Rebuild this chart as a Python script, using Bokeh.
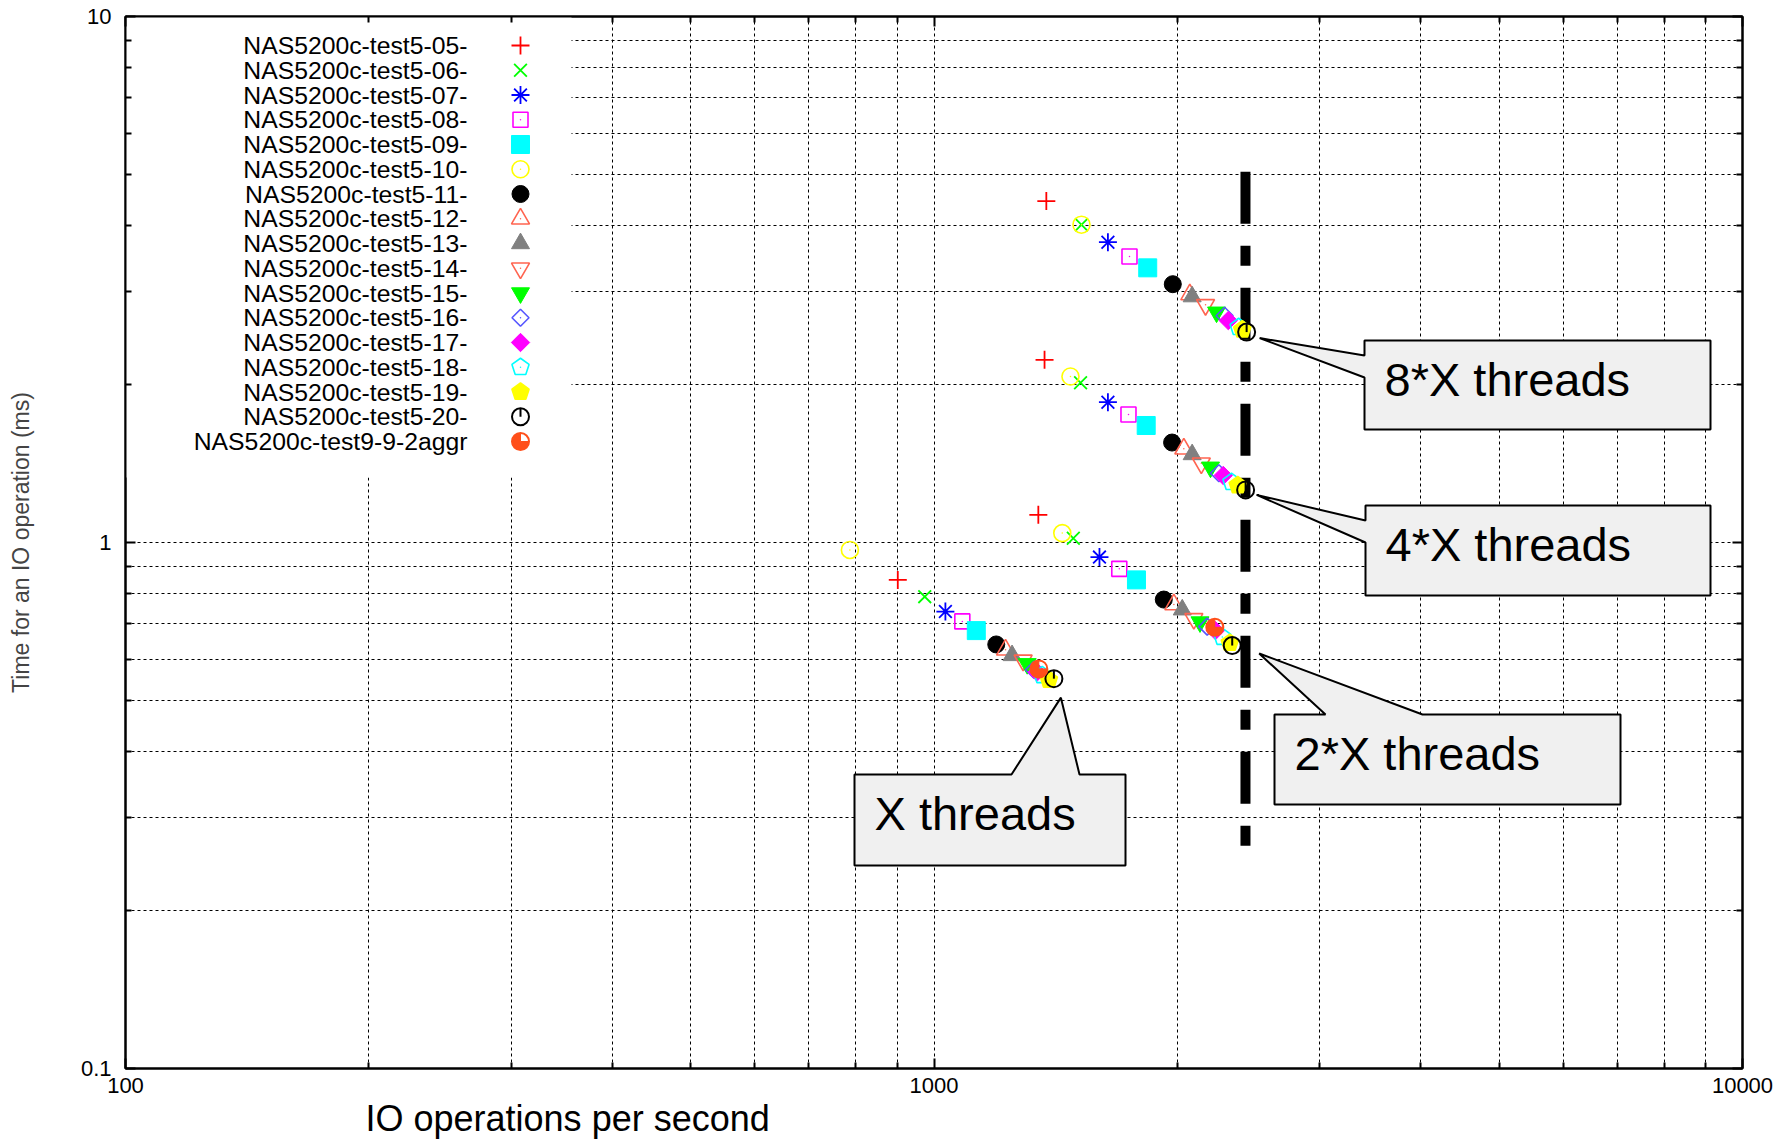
import numpy as np
from bokeh.plotting import figure
from bokeh.models import FixedTicker, LogAxis, Title
from bokeh.core.properties import value
from bokeh.embed import file_html
from bokeh.resources import INLINE

# ---------------- data (IOPS, latency ms) : groups X, 2*X, 4*X, 8*X threads ----------------
iops_05 = [902, 1346, 1370, 1377];  lat_05 = [0.849, 1.129, 2.225, 4.457]
iops_06 = [974, 1487, 1518, 1522];  lat_06 = [0.789, 1.019, 2.012, 4.018]
iops_07 = [1033, 1602, 1641, 1641]; lat_07 = [0.739, 0.938, 1.848, 3.724]
iops_08 = [1084, 1695, 1740, 1745]; lat_08 = [0.708, 0.891, 1.751, 3.498]
iops_09 = [1128, 1780, 1830, 1838]; lat_09 = [0.680, 0.849, 1.669, 3.328]
iops_10 = [787, 1441, 1475, 1522];  lat_10 = [0.968, 1.042, 2.068, 4.020]
iops_11 = [1194, 1924, 1970, 1974]; lat_11 = [0.640, 0.779, 1.549, 3.098]
iops_12 = [1226, 1980, 2037, 2072]; lat_12 = [0.625, 0.762, 1.507, 2.960]
iops_13 = [1249, 2028, 2086, 2086]; lat_13 = [0.610, 0.745, 1.470, 2.934]
iops_14 = [1289, 2096, 2141, 2167]; lat_14 = [0.597, 0.716, 1.415, 2.830]
iops_15 = [1304, 2133, 2198, 2236]; lat_15 = [0.588, 0.706, 1.390, 2.740]
iops_16 = [1329, 2177, 2251, 2288]; lat_16 = [0.573, 0.692, 1.354, 2.698]
iops_17 = [1341, 2229, 2279, 2312]; lat_17 = [0.567, 0.680, 1.341, 2.642]
iops_18 = [1361, 2273, 2333, 2381]; lat_18 = [0.559, 0.661, 1.302, 2.566]
iops_19 = [1387, 2322, 2375, 2406]; lat_19 = [0.548, 0.644, 1.284, 2.538]
iops_20 = [1407, 2338, 2429, 2436]; lat_20 = [0.551, 0.637, 1.259, 2.512]
iops_aggr = [1348, 2225];           lat_aggr = [0.575, 0.690]

series_names = [
    "NAS5200c-test5-05-", "NAS5200c-test5-06-", "NAS5200c-test5-07-",
    "NAS5200c-test5-08-", "NAS5200c-test5-09-", "NAS5200c-test5-10-",
    "NAS5200c-test5-11-", "NAS5200c-test5-12-", "NAS5200c-test5-13-",
    "NAS5200c-test5-14-", "NAS5200c-test5-15-", "NAS5200c-test5-16-",
    "NAS5200c-test5-17-", "NAS5200c-test5-18-", "NAS5200c-test5-19-",
    "NAS5200c-test5-20-", "NAS5200c-test9-9-2aggr",
]
series_iops = [iops_05, iops_06, iops_07, iops_08, iops_09, iops_10, iops_11, iops_12,
               iops_13, iops_14, iops_15, iops_16, iops_17, iops_18, iops_19, iops_20, iops_aggr]
series_lat = [lat_05, lat_06, lat_07, lat_08, lat_09, lat_10, lat_11, lat_12,
              lat_13, lat_14, lat_15, lat_16, lat_17, lat_18, lat_19, lat_20, lat_aggr]

x_major = [100, 1000, 10000]
x_labels = ["100", "1000", "10000"]
y_major = [0.1, 1, 10]
y_labels = ["0.1", "1", "10"]

x_title = "IO operations per second"
y_title = "Time for an IO operation (ms)"
callout_labels = ["8*X threads", "4*X threads", "2*X threads", "X threads"]
saturation_iops = 2428          # thick dashed reference line
saturation_span = [5.07, 0.2585]

# ---------------- styles ----------------
FONT = "Liberation Sans"
RED, GREEN, BLUE, MAG, CYAN, YEL = "#ff0000", "#00ff00", "#0000ff", "#ff00ff", "#00ffff", "#ffff00"
BLK, CORAL, GRAY, LBLUE, ORANGE = "#000000", "#ff6450", "#808080", "#5555ff", "#ff4f1a"
styles = [
    ("cross", RED), ("x", GREEN), ("asterisk", BLUE), ("square_dot", MAG),
    ("square", CYAN), ("circle_dot", YEL), ("circle", BLK), ("triangle_dot", CORAL),
    ("triangle", GRAY), ("itri_dot", CORAL), ("inverted_triangle", GREEN),
    ("diamond_dot", LBLUE), ("diamond", MAG), ("pent_dot", CYAN), ("pent", YEL),
    ("clock", BLK), ("pie", ORANGE),
]

# frame geometry (pixels) used for annotation placement
W, H = 1791, 1142
FL, FT, FR, FB = 125, 16, 1742, 1068
FW, FH = FR - FL, FB - FT


def px2x(px):
    return 10 ** (2 + 2 * (px - FL) / FW)


def py2y(py):
    return 10 ** (1 - 2 * (py - FT) / FH)


def x2px(x):
    return FL + (np.log10(x) - 2) * FW / 2


def y2py(y):
    return FT + (1 - np.log10(y)) * FH / 2


p = figure(width=W, height=H, x_axis_type="log", y_axis_type="log",
           x_range=(100, 10000), y_range=(0.1, 10),
           output_backend="svg", toolbar_location=None,
           min_border_left=FL, min_border_right=W - FR,
           min_border_top=FT, min_border_bottom=H - FB)
p.background_fill_color = "white"
p.border_fill_color = "white"
p.outline_line_color = "black"
p.outline_line_width = 2

x_minor = [m * d for d in (100, 1000) for m in range(2, 10)]
y_minor = [m * d for d in (0.1, 1) for m in range(2, 10)]

for ax, maj, minr, labs in ((p.xaxis, x_major, x_minor, x_labels), (p.yaxis, y_major, y_minor, y_labels)):
    ax.ticker = FixedTicker(ticks=maj, minor_ticks=minr)
    ax.major_label_overrides = dict(zip(maj, labs))
    ax.major_label_text_font = FONT
    ax.major_label_text_font_size = "22px"
    ax.major_label_text_color = "black"
    ax.axis_line_width = 2
    ax.axis_line_color = "black"
    ax.major_tick_in = 10
    ax.major_tick_out = 0
    ax.minor_tick_in = 6
    ax.minor_tick_out = 0
    ax.major_tick_line_width = 2
    ax.minor_tick_line_width = 2
p.xaxis.major_label_standoff = 9
p.yaxis.major_label_standoff = 14
p.yaxis.axis_label = y_title
p.yaxis.axis_label_text_font = FONT
p.yaxis.axis_label_text_font_size = "23px"
p.yaxis.axis_label_text_font_style = "normal"
p.yaxis.axis_label_standoff = 44

# x-axis title below the tick labels, left-aligned with an offset (as in the original)
p.add_layout(Title(text=x_title, align="left", offset=240, standoff=0,
                   text_font=FONT, text_font_size="36px", text_font_style="normal",
                   text_color="black"), "below")

# mirrored ticks (top and right), labels invisible
for loc, maj, minr in (("above", x_major, x_minor), ("right", y_major, y_minor)):
    mx = LogAxis(ticker=FixedTicker(ticks=maj, minor_ticks=minr),
                 major_label_text_font_size="2px", major_label_text_alpha=0.0,
                 major_label_standoff=0,
                 major_tick_in=10, major_tick_out=0, minor_tick_in=6, minor_tick_out=0,
                 major_tick_line_width=2, minor_tick_line_width=2,
                 axis_line_width=2, axis_line_color="black")
    p.add_layout(mx, loc)

p.xgrid.ticker = FixedTicker(ticks=x_minor + [1000])
p.ygrid.ticker = FixedTicker(ticks=y_minor + [1])
for g in (p.xgrid, p.ygrid):
    g.grid_line_color = "black"
    g.grid_line_width = 1
    g.grid_line_dash = "3 3"
    g.grid_line_alpha = 1.0

# opaque legend box over the grid
p.quad(left=100, right=px2x(571), bottom=py2y(477), top=10, fill_color="white", line_color=None)

# thick dashed reference line
p.line(x=[saturation_iops, saturation_iops], y=saturation_span, line_color="black",
       line_width=10, line_dash="52 22 20 22")


def dot(xs, ys, color):
    p.scatter(xs, ys, marker="dot", size=6, line_color=color, fill_color=color)


def pentagons(xs, ys, color, filled, r=9.0):
    px_list, py_list = [], []
    for xv, yv in zip(xs, ys):
        cx, cy = x2px(xv), y2py(yv)
        ang = np.arange(5) * 2 * np.pi / 5
        px_list.append([px2x(cx + r * np.sin(a)) for a in ang])
        py_list.append([py2y(cy - r * np.cos(a)) for a in ang])
    p.patches(xs=px_list, ys=py_list, line_color=color, line_width=1.6,
              fill_color=color, fill_alpha=1 if filled else 0)


def draw(kind, color, xs, ys):
    xs = list(xs); ys = list(ys)
    if kind in ("cross", "x", "asterisk"):
        p.scatter(xs, ys, marker=kind, size=18, line_color=color, line_width=1.8, fill_color=None)
    elif kind == "square_dot":
        p.scatter(xs, ys, marker="square", size=15, line_color=color, line_width=1.6, fill_alpha=0)
        dot(xs, ys, color)
    elif kind == "circle_dot":
        p.scatter(xs, ys, marker="circle", size=17, line_color=color, line_width=1.6, fill_alpha=0)
        dot(xs, ys, color)
    elif kind == "triangle_dot":
        p.scatter(xs, ys, marker="triangle", size=18, line_color=color, line_width=1.6, fill_alpha=0)
        dot(xs, ys, color)
    elif kind == "itri_dot":
        p.scatter(xs, ys, marker="inverted_triangle", size=18, line_color=color,
                  line_width=1.6, fill_alpha=0)
        dot(xs, ys, color)
    elif kind == "diamond_dot":
        p.scatter(xs, ys, marker="square", size=12, angle=np.pi / 4, line_color=color,
                  line_width=1.6, fill_alpha=0)
        dot(xs, ys, color)
    elif kind == "diamond":
        p.scatter(xs, ys, marker="square", size=13, angle=np.pi / 4, line_color=color, fill_color=color)
    elif kind in ("square", "circle", "triangle", "inverted_triangle"):
        sz = {"square": 18, "circle": 17, "triangle": 18, "inverted_triangle": 18}[kind]
        p.scatter(xs, ys, marker=kind, size=sz, line_color=color, fill_color=color)
    elif kind in ("pent", "pent_dot"):
        pentagons(xs, ys, color, kind == "pent")
        if kind == "pent_dot":
            dot(xs, ys, color)
    elif kind == "clock":
        p.scatter(xs, ys, marker="circle", size=17, line_color=color, line_width=2, fill_alpha=0)
        p.ray(x=xs, y=ys, length=8, length_units="screen", angle=np.pi / 2,
              line_color=color, line_width=2)
    elif kind == "pie":
        p.wedge(x=xs, y=ys, radius=8, radius_units="screen", start_angle=np.pi / 2,
                end_angle=2 * np.pi, fill_color=color, line_color=color)
        p.scatter(xs, ys, marker="circle", size=17, line_color=color, line_width=2, fill_alpha=0)


for (kind, color), xs, ys in zip(styles, series_iops, series_lat):
    draw(kind, color, xs, ys)

# legend (label right-aligned, symbol to the right)
row_y = [py2y(45 + i * 24.75) for i in range(len(series_names))]
p.text(x=[px2x(467)] * len(series_names), y=row_y, text=series_names,
       text_font=value(FONT), text_font_size="24.75px", text_align="right",
       text_baseline="middle", text_color="black")
for (kind, color), yy in zip(styles, row_y):
    draw(kind, color, [px2x(520)], [yy])

# callouts: box (pixels) + wedge pointing at the group's last point
ends = [(iops_20[3], lat_20[3]), (iops_20[2], lat_20[2]), (iops_20[1], lat_20[1]), (iops_20[0], lat_20[0])]
tip_off = [(13, 6), (11, 5), (27, 8), (7, 19)]
boxes = [(1364, 340, 1710, 429), (1365, 505, 1710, 595), (1274, 714, 1620, 804), (854, 774, 1125, 865)]
sides = ["left", "left", "top", "top"]
bases = [(15, 37), (15, 37), (51, 148), (157, 225)]

for lab, (ex, ey), (dx, dy), (l, t, r, b), side, (b1, b2) in zip(callout_labels, ends, tip_off, boxes, sides, bases):
    tx, ty = x2px(ex) + dx, y2py(ey) + dy
    if side == "left":
        pts = [(l, t), (r, t), (r, b), (l, b), (l, t + b2), (tx, ty), (l, t + b1)]
    else:
        pts = [(l, t), (l + b1, t), (tx, ty), (l + b2, t), (r, t), (r, b), (l, b)]
    p.patch(x=[px2x(a) for a, _ in pts], y=[py2y(c) for _, c in pts],
            fill_color="#f0f0f0", line_color="black", line_width=2)
    p.text(x=[px2x(l + 20)], y=[py2y(t + 39)], text=[lab], text_font=value(FONT),
           text_font_size="47px", text_align="left", text_baseline="alphabetic",
           text_color="black")

open("out.html", "w").write(file_html(p, INLINE))
